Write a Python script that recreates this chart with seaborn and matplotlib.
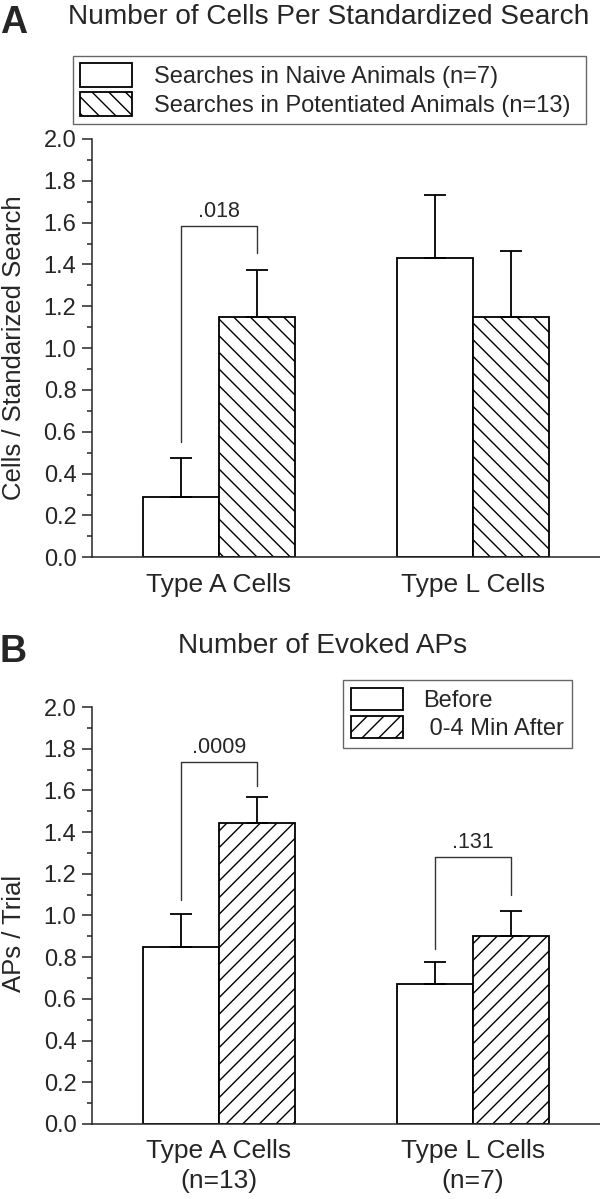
import numpy as np
import pandas as pd
import matplotlib
matplotlib.use("Agg")
import matplotlib.pyplot as plt
import matplotlib.patches as mpatches
from matplotlib.ticker import MultipleLocator, FormatStrFormatter
import seaborn as sns

# panel A data
cells_a = ["Type A Cells", "Type L Cells"]
groups_a = ["Searches in Naive Animals (n=7)", "Searches in Potentiated Animals (n=13)"]
naive_mean = [0.29, 1.43]
naive_se = [0.185, 0.30]
pot_mean = [1.15, 1.15]
pot_se = [0.222, 0.315]
# bracket: category index, left foot, top, right foot, p value
brackets_a = [(0, 0.55, 1.583, 1.457, ".018")]

# panel B data
cells_b = ["Type A Cells\n(n=13)", "Type L Cells\n(n=7)"]
groups_b = ["Before", " 0-4 Min After"]
before_mean = [0.847, 0.669]
before_se = [0.159, 0.110]
after_mean = [1.445, 0.900]
after_se = [0.124, 0.123]
brackets_b = [(0, 1.074, 1.734, 1.621, ".0009"), (1, 0.840, 1.281, 1.096, ".131")]

sns.set_style("ticks")
plt.rcParams["font.family"] = ["Liberation Sans", "DejaVu Sans"]
plt.rcParams["hatch.linewidth"] = 1.0

fig = plt.figure(figsize=(6, 11.99), dpi=100)
ax_a = fig.add_axes([0.1528, 0.5352, 0.8472, 0.3489])
ax_b = fig.add_axes([0.1528, 0.0626, 0.8472, 0.3477])


def draw_panel(ax, cells, groups, m1, s1, m2, s2, hatch, brackets, ylabel):
    df = pd.DataFrame({
        "cell": cells + cells,
        "group": [groups[0]] * len(cells) + [groups[1]] * len(cells),
        "mean": m1 + m2,
    })
    sns.barplot(data=df, x="cell", y="mean", hue="group", hue_order=groups,
                palette=["white", "white"], saturation=1, edgecolor="black",
                linewidth=1.3, width=0.6, errorbar=None, legend=False, ax=ax)
    bar_conts = list(ax.containers)
    centers = []
    for k, cont in enumerate(bar_conts):
        xs = [b.get_x() + b.get_width() / 2 for b in cont]
        hs = [b.get_height() for b in cont]
        centers.append(xs)
        if k == 1:
            for b in cont:
                b.set_hatch(hatch)
        err = s1 if k == 0 else s2
        ax.errorbar(xs, hs, yerr=[np.zeros(len(err)), err], fmt="none",
                    ecolor="black", elinewidth=1.3, capsize=8, capthick=1.3, zorder=1)

    for idx, lo_l, top, lo_r, txt in brackets:
        xl, xr = centers[0][idx], centers[1][idx]
        ax.plot([xl, xl, xr, xr], [lo_l, top, top, lo_r], color="#333333", lw=1.0,
                clip_on=False)
        ax.annotate(txt, ((xl + xr) / 2, top), xytext=(0, 3), textcoords="offset points",
                    ha="center", va="bottom", fontsize=15.5)

    ax.set_ylim(0, 2.0)
    ax.set_xlim(-0.5, 1.5)
    ax.yaxis.set_major_locator(MultipleLocator(0.2))
    ax.yaxis.set_minor_locator(MultipleLocator(0.1))
    ax.yaxis.set_major_formatter(FormatStrFormatter("%.1f"))
    ax.tick_params(axis="y", which="major", length=7, width=1.1, labelsize=17, pad=4, direction="out")
    ax.tick_params(axis="y", which="minor", length=3.6, width=1.1, direction="out")
    ax.tick_params(axis="x", length=0, labelsize=19, pad=11)
    ax.set_xlabel("")
    ax.set_ylabel(ylabel, fontsize=18.5)
    for s in ["top", "right"]:
        ax.spines[s].set_visible(False)
    ax.spines["left"].set_linewidth(1.1)
    ax.spines["bottom"].set_linewidth(1.1)
    ax.set_facecolor("white")


draw_panel(ax_a, cells_a, groups_a, naive_mean, naive_se, pot_mean, pot_se, "\\\\",
           brackets_a, "Cells / Standarized Search")
draw_panel(ax_b, cells_b, groups_b, before_mean, before_se, after_mean, after_se, "//",
           brackets_b, "APs / Trial")
ax_a.yaxis.set_label_coords(-0.13, 0.5)
ax_b.yaxis.set_label_coords(-0.13, 0.456)
for t in ax_b.get_xticklabels():
    t.set_linespacing(1.3)

# titles and panel letters
fig.text(329 / 600, 1 - 17 / 1199, "Number of Cells Per Standardized Search",
         ha="center", va="center", fontsize=20.2)
fig.text(0.0, 1 - 23 / 1199, "A", ha="left", va="center", fontsize=27, fontweight="bold")
fig.text(323 / 600, 1 - 646 / 1199, "Number of Evoked APs", ha="center", va="center", fontsize=20.2)
fig.text(0.0, 1 - 652 / 1199, "B", ha="left", va="center", fontsize=27, fontweight="bold")

# legends
h_a = [mpatches.Patch(facecolor="white", edgecolor="black", lw=1.3, label=groups_a[0]),
       mpatches.Patch(facecolor="white", edgecolor="black", lw=1.3, hatch="\\\\", label=groups_a[1])]
fig.legend(handles=h_a, loc="upper left",
           bbox_to_anchor=(73 / 600, 1 - 124 / 1199, (586 - 73) / 600, (124 - 56) / 1199),
           mode="expand", borderaxespad=0, fontsize=17, handlelength=2.2, handleheight=1.2,
           handletextpad=0.95, labelspacing=0.15, borderpad=0.3, fancybox=False,
           edgecolor="#666666", framealpha=1)

h_b = [mpatches.Patch(facecolor="white", edgecolor="black", lw=1.3, label=groups_b[0]),
       mpatches.Patch(facecolor="white", edgecolor="black", lw=1.3, hatch="//", label=groups_b[1])]
fig.legend(handles=h_b, loc="upper left", bbox_to_anchor=(343 / 600, 1 - 680 / 1199),
           borderaxespad=0, fontsize=17, handlelength=2.2, handleheight=1.05,
           handletextpad=0.85, labelspacing=0.15, borderpad=0.35, fancybox=False,
           edgecolor="#666666", framealpha=1)

fig.savefig("out.png", dpi=100, facecolor="white")
